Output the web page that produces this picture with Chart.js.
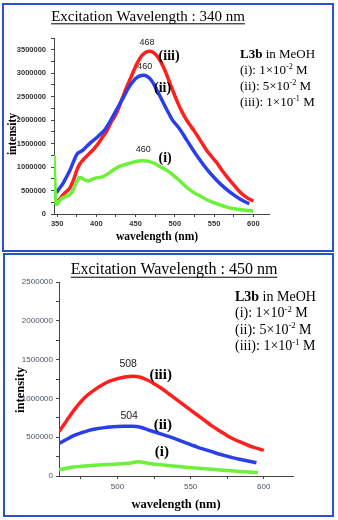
<!DOCTYPE html>
<html>
<head>
<meta charset="utf-8">
<script src="https://cdn.jsdelivr.net/npm/chart.js@4.4.0/dist/chart.umd.min.js"></script>
<style>
  body { margin: 0; background: #fff; width: 338px; height: 520px; position: relative; overflow: hidden; }
  .box { position: absolute; border: 2px solid #2b4fd2; box-sizing: border-box; }
  canvas { position: absolute; left: 0; }
</style>
</head>
<body>
<div class="box" style="left:2px;top:3px;width:332px;height:249px"></div>
<div class="box" style="left:3px;top:253px;width:331px;height:264px"></div>
<canvas id="c340" width="338" height="252" style="top:0"></canvas>
<canvas id="c450" width="338" height="265" style="top:253px"></canvas>
<script>
// emission spectra of L3b in MeOH
// excitation 340 nm
var wl340_i = [346, 347, 348, 349, 351, 354, 357, 362, 366, 370, 374, 378, 380, 383, 386, 390, 395, 400, 405, 410, 415, 420, 425, 430, 438, 445, 451, 457, 463, 468, 475, 482, 490, 497, 504, 511, 518, 525, 532, 540, 547, 554, 562, 570, 580, 590, 600];
var int340_i = [1250000, 700000, 300000, 200000, 230000, 300000, 340000, 380000, 410000, 500000, 650000, 770000, 780000, 745000, 720000, 710000, 740000, 770000, 780000, 810000, 860000, 920000, 975000, 1020000, 1060000, 1095000, 1118000, 1133000, 1128000, 1115000, 1070000, 1000000, 930000, 840000, 740000, 630000, 530000, 450000, 390000, 310000, 260000, 215000, 170000, 130000, 100000, 80000, 62000];
var wl340_ii = [349, 353, 357, 361, 366, 370, 373, 376, 380, 383, 387, 392, 397, 402, 407, 411, 416, 421, 428, 434, 440, 447, 452, 456, 460, 465, 470, 476, 482, 488, 493, 497, 502, 507, 515, 523, 532, 542, 553, 564, 575, 584, 592, 595];
var int340_ii = [450000, 550000, 640000, 760000, 920000, 1080000, 1200000, 1290000, 1330000, 1360000, 1430000, 1510000, 1580000, 1650000, 1730000, 1800000, 1930000, 2080000, 2290000, 2470000, 2660000, 2830000, 2910000, 2945000, 2955000, 2930000, 2850000, 2680000, 2480000, 2280000, 2120000, 2000000, 1900000, 1790000, 1580000, 1370000, 1150000, 930000, 726000, 550000, 406000, 310000, 240000, 220000];
var wl340_iii = [351, 354, 357, 362, 366, 369, 372, 375, 379, 383, 387, 391, 396, 400, 404, 408, 413, 419, 426, 432, 438, 445, 451, 456, 460, 464, 468, 473, 479, 485, 490, 495, 500, 505, 510, 515, 520, 525, 532, 540, 547, 554, 560, 567, 575, 583, 590, 600];
var int340_iii = [280000, 330000, 400000, 480000, 550000, 650000, 780000, 930000, 1070000, 1150000, 1220000, 1290000, 1370000, 1450000, 1540000, 1640000, 1760000, 1960000, 2160000, 2420000, 2680000, 2950000, 3180000, 3330000, 3410000, 3455000, 3470000, 3440000, 3330000, 3150000, 2950000, 2730000, 2520000, 2320000, 2150000, 2000000, 1880000, 1760000, 1580000, 1370000, 1220000, 1080000, 930000, 780000, 620000, 470000, 370000, 270000];
// excitation 450 nm
var wl450_i = [460, 465, 470, 475, 480, 490, 500, 505, 510, 514, 518, 522, 530, 540, 550, 560, 570, 580, 590, 596];
var int450_i = [80000, 100000, 115000, 125000, 133000, 145000, 155000, 160000, 170000, 185000, 175000, 160000, 145000, 125000, 108000, 92000, 78000, 64000, 50000, 42000];
var wl450_ii = [460, 465, 470, 475, 480, 485, 490, 495, 500, 505, 510, 515, 520, 525, 530, 535, 540, 545, 550, 555, 560, 565, 570, 575, 580, 585, 590, 595];
var int450_ii = [420000, 470000, 520000, 555000, 585000, 605000, 620000, 632000, 638000, 640000, 640000, 632000, 600000, 570000, 540000, 510000, 475000, 440000, 405000, 370000, 340000, 310000, 280000, 255000, 230000, 210000, 190000, 170000];
var wl450_iii = [460, 464, 468, 472, 476, 480, 485, 490, 495, 500, 505, 510, 515, 520, 525, 530, 535, 540, 545, 550, 555, 560, 565, 570, 575, 580, 585, 590, 595, 600];
var int450_iii = [570000, 680000, 790000, 890000, 980000, 1050000, 1120000, 1180000, 1225000, 1255000, 1275000, 1285000, 1275000, 1240000, 1190000, 1130000, 1060000, 990000, 920000, 850000, 780000, 710000, 640000, 580000, 520000, 470000, 430000, 390000, 360000, 330000];

var xTicks340 = [350, 400, 450, 500, 550, 600];
var xTicks450 = [500, 550, 600];
var yTicks340 = [0, 500000, 1000000, 1500000, 2000000, 2500000, 3000000, 3500000];
var yTicks450 = [0, 500000, 1000000, 1500000, 2000000, 2500000];

var seriesNames = ['(i)', '(ii)', '(iii)'];
var concMant = ['1', '5', '1'];
var concExp = ['-2', '-2', '-1'];

var SERIF = "'Liberation Serif', 'Times New Roman', serif";
var SANS = "'Liberation Sans', Arial, sans-serif";
var RED = '#ff1f1f', BLUE = '#2b3fe8', GREEN = '#6cf03a';

function pts(xs, ys) {
  return xs.map(function (x, i) { return { x: x, y: ys[i] }; });
}

function line(data, color) {
  return {
    data: data, borderColor: color, backgroundColor: color,
    borderWidth: 3.5, pointRadius: 0, fill: false,
    cubicInterpolationMode: 'monotone'
  };
}

function drawRuns(ctx, x, y, size, runs) {
  runs.forEach(function (r) {
    var s = r.sup ? size * 0.62 : size;
    ctx.font = (r.bold ? 'bold ' : '') + s + 'px ' + SERIF;
    ctx.fillText(r.t, x, r.sup ? y - size * 0.3 : y);
    x += ctx.measureText(r.t).width;
  });
}

var textPlugin = {
  id: 'texts',
  afterDraw: function (chart, args, o) {
    var ctx = chart.ctx, xs = chart.scales.x, ys = chart.scales.y;
    ctx.save();
    ctx.fillStyle = '#000';
    ctx.textBaseline = 'middle';
    ctx.textAlign = 'center';
    // underlined title
    ctx.font = o.titleSize + 'px ' + SERIF;
    ctx.fillText(o.title, o.titleX, o.titleY);
    var w = ctx.measureText(o.title).width;
    ctx.fillRect(o.titleX - w / 2, o.titleY + o.titleSize * 0.42, w, 1);
    // axis titles
    ctx.font = 'bold ' + o.axisSize + 'px ' + SERIF;
    ctx.fillText('wavelength (nm)', o.xTitle[0], o.xTitle[1]);
    ctx.save();
    ctx.translate(o.yTitle[0], o.yTitle[1]);
    ctx.rotate(-Math.PI / 2);
    ctx.fillText('intensity', 0, 0);
    ctx.restore();
    // peak positions and series marks
    o.notes.forEach(function (n) {
      if (n.num) {
        ctx.font = o.numSize + 'px ' + SANS;
        ctx.fillStyle = '#222';
      } else {
        ctx.font = 'bold ' + o.markSize + 'px ' + SERIF;
        ctx.fillStyle = '#000';
      }
      ctx.fillText(n.t, xs.getPixelForValue(n.x), ys.getPixelForValue(n.y));
    });
    // legend block
    ctx.fillStyle = '#000';
    ctx.textAlign = 'left';
    var lx = o.legend[0], ly = o.legend[1];
    drawRuns(ctx, lx, ly, o.legSize, [{ t: 'L3b', bold: true }, { t: ' in MeOH' }]);
    seriesNames.forEach(function (s, i) {
      drawRuns(ctx, lx, ly + o.legStep * (i + 1), o.legSize, [
        { t: s + ': ' + concMant[i] + '\u00d710' },
        { t: concExp[i], sup: true },
        { t: ' M' }
      ]);
    });
    ctx.restore();
  }
};

function scales(c) {
  return {
    x: {
      type: 'linear', min: c.xMin, max: c.xMax,
      afterFit: function (s) { s.height = c.xH; },
      border: { color: '#444', width: 1 },
      grid: { drawOnChartArea: false, tickLength: 3, tickColor: '#444' },
      ticks: {
        stepSize: 25, includeBounds: false, autoSkip: false, maxRotation: 0,
        padding: c.xPad, color: c.tickColor, font: c.tickFont,
        callback: function (v) { return c.xTicks.indexOf(v) >= 0 ? String(v) : ''; }
      }
    },
    y: {
      type: 'linear', min: 0, max: c.yMax,
      afterFit: function (s) { s.width = c.yW; },
      border: { color: '#444', width: 1 },
      grid: { drawOnChartArea: false, tickLength: 3, tickColor: '#444' },
      ticks: {
        stepSize: 250000, autoSkip: false,
        padding: c.yPad, color: c.tickColor, font: c.tickFont,
        callback: function (v) { return c.yTicks.indexOf(v) >= 0 ? String(v) : ''; }
      }
    }
  };
}

new Chart(document.getElementById('c340'), {
  type: 'line',
  data: {
    datasets: [
      line(pts(wl340_i, int340_i), GREEN),
      line(pts(wl340_ii, int340_ii), BLUE),
      line(pts(wl340_iii, int340_iii), RED)
    ]
  },
  options: {
    responsive: false, animation: false,
    layout: { padding: { left: 0, right: 69, top: 38, bottom: 0 } },
    plugins: {
      legend: { display: false }, tooltip: { enabled: false },
      texts: {
        title: 'Excitation Wavelength : 340 nm', titleSize: 15, titleX: 148, titleY: 17,
        axisSize: 11.5, xTitle: [157, 237], yTitle: [13, 134],
        numSize: 9, markSize: 14,
        notes: [
          { t: '468', x: 464.5, y: 3647000, num: true },
          { t: '(iii)', x: 492.7, y: 3355000 },
          { t: '460', x: 461.5, y: 3141000, num: true },
          { t: '(ii)', x: 484.4, y: 2686000 },
          { t: '460', x: 459.7, y: 1382000, num: true },
          { t: '(i)', x: 487.6, y: 1175000 }
        ],
        legend: [240, 55], legSize: 13, legStep: 16
      }
    },
    scales: scales({
      xMin: 346, xMax: 620, xH: 38, xPad: 2, xTicks: xTicks340,
      yMax: 3750000, yW: 54, yPad: 5, yTicks: yTicks340,
      tickColor: '#333', tickFont: { family: SANS, size: 7.5, weight: 'bold' }
    })
  },
  plugins: [textPlugin]
});

new Chart(document.getElementById('c450'), {
  type: 'line',
  data: {
    datasets: [
      line(pts(wl450_i, int450_i), GREEN),
      line(pts(wl450_ii, int450_ii), BLUE),
      line(pts(wl450_iii, int450_iii), RED)
    ]
  },
  options: {
    responsive: false, animation: false,
    layout: { padding: { left: 0, right: 45, top: 29, bottom: 0 } },
    plugins: {
      legend: { display: false }, tooltip: { enabled: false },
      texts: {
        title: 'Excitation Wavelength : 450 nm', titleSize: 16, titleX: 174, titleY: 17,
        axisSize: 12.5, xTitle: [176, 252], yTitle: [21, 137],
        numSize: 10.5, markSize: 15,
        notes: [
          { t: '508', x: 507.3, y: 1438000, num: true },
          { t: '(iii)', x: 529.5, y: 1299000 },
          { t: '504', x: 508, y: 768000, num: true },
          { t: '(ii)', x: 531, y: 661000 },
          { t: '(i)', x: 530.3, y: 302000 }
        ],
        legend: [235, 44], legSize: 14, legStep: 16.5
      }
    },
    scales: scales({
      xMin: 460, xMax: 620, xH: 42, xPad: 3, xTicks: xTicks450,
      yMax: 2500000, yW: 59, yPad: 3, yTicks: yTicks450,
      tickColor: '#4a5266', tickFont: { family: SANS, size: 8 }
    })
  },
  plugins: [textPlugin]
});
</script>
</body>
</html>
